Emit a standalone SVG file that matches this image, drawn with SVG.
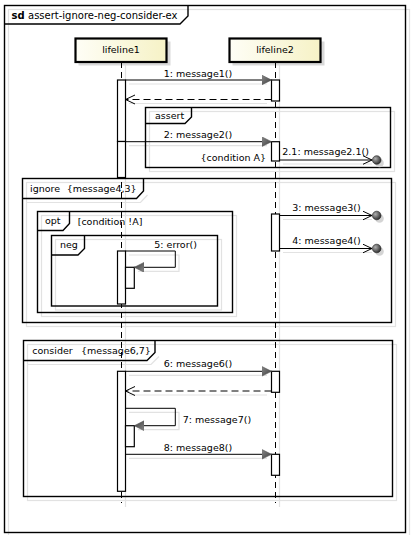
<svg xmlns="http://www.w3.org/2000/svg" width="411" height="535" viewBox="0 0 411 535">
<defs>
  <linearGradient id="boxGrad" x1="0" y1="0" x2="1" y2="0">
    <stop offset="0" stop-color="#fefef6"/>
    <stop offset="1" stop-color="#f6f2c6"/>
  </linearGradient>
  <linearGradient id="arrowGrad" x1="0" y1="0" x2="1" y2="1">
    <stop offset="0" stop-color="#8a8a8a"/>
    <stop offset="1" stop-color="#3c3c3c"/>
  </linearGradient>
  <radialGradient id="dotGrad" cx="0.35" cy="0.35" r="0.7">
    <stop offset="0" stop-color="#b0b0b0"/>
    <stop offset="1" stop-color="#2a2a2a"/>
  </radialGradient>
  <marker id="filled" markerWidth="12" markerHeight="12" refX="10" refY="5" orient="auto" markerUnits="userSpaceOnUse">
    <path d="M0,0 L10,5 L0,10 Z" fill="url(#arrowGrad)" stroke="#555" stroke-width="0.6"/>
  </marker>
  <marker id="open" markerWidth="12" markerHeight="12" refX="9.5" refY="5" orient="auto" markerUnits="userSpaceOnUse">
    <path d="M0,0.5 L9.5,5 L0,9.5" fill="none" stroke="#000" stroke-width="1"/>
  </marker>
  <style>
    text { font-family: "DejaVu Sans", "Noto Sans", sans-serif; font-size: 9.5px; fill: #000; }
    .title { font-size: 10px; }
    .frame { fill: none; stroke: #000; stroke-width: 1.4; }
    .shadow { fill: none; stroke: #e2e2e2; stroke-width: 1.2; }
    .boxshadow { fill: #d9d9d9; }
    .box { fill: url(#boxGrad); stroke: #000; stroke-width: 2.2; }
    .lifeline { stroke: #000; stroke-width: 1; stroke-dasharray: 6 4; fill: none; }
    .act { fill: #fff; stroke: #000; stroke-width: 1.2; }
    .msg { stroke: #000; stroke-width: 1; fill: none; marker-end: url(#filled); }
    .ret { stroke: #000; stroke-width: 1; fill: none; stroke-dasharray: 7 4; marker-end: url(#open); }
    .lost { stroke: #000; stroke-width: 1; fill: none; marker-end: url(#open); }
    .dot { fill: url(#dotGrad); stroke: #222; stroke-width: 0.6; }
    .dotshadow { fill: #d4d4d4; }
    .mid { text-anchor: middle; }
  </style>
</defs>
<rect x="0" y="0" width="411" height="535" fill="#fff"/>

<!-- shadows -->
<g id="shadows">
  <rect class="shadow" x="8.5" y="9.5" width="401" height="530"/>
  <rect class="shadow" x="149.5" y="111.5" width="245" height="60"/>
  <rect class="shadow" x="26.5" y="182.5" width="369" height="144"/>
  <path class="shadow" d="M26.5,202.5 H140.5 L147.5,195"/>
  <rect class="shadow" x="41.5" y="215.5" width="195" height="101"/>
  <rect class="shadow" x="55.5" y="239.5" width="166" height="70.5"/>
  <rect class="shadow" x="27.5" y="344.5" width="369" height="156"/>
  <path class="shadow" d="M27.5,364.5 H151 L159,356.5"/>
  <line class="shadow" x1="125.5" y1="63" x2="125.5" y2="507"/>
  <line class="shadow" x1="279.5" y1="63" x2="279.5" y2="507"/>
  <path class="shadow" d="M129,84 H267 M267,103.5 H129 M129,145.7 H267 M283,164 H372 M283,219.5 H372 M283,252.5 H372 M129,255 H179 V271.3 H138 M129,375.3 H267 M267,395 H129 M129,412.3 H179 V429.7 H138 M129,458.3 H267"/>
</g>

<!-- outer sd frame -->
<g id="frame-sd">
  <rect class="frame" x="4.5" y="5.5" width="401" height="527"/>
  <path class="frame" d="M4.5,24 H180 L188,16 V5.5"/>
  <text class="title" x="11.5" y="18.5"><tspan font-weight="bold">sd</tspan><tspan x="28">assert-ignore-neg-consider-ex</tspan></text>
</g>

<!-- combined fragments -->
<g id="frame-assert">
  <rect class="frame" x="145.5" y="107.5" width="245" height="60"/>
  <path class="frame" d="M145.5,123.5 H185 L191.5,117 V107.5"/>
  <text x="155" y="119">assert</text>
  <text x="200.5" y="160.5">{condition A}</text>
</g>
<g id="frame-ignore">
  <rect class="frame" x="22.5" y="178.5" width="369" height="144"/>
  <path class="frame" d="M22.5,198.5 H136.5 L143.5,191 V178.5"/>
  <text x="30" y="192">ignore<tspan x="66.7">{message4,3}</tspan></text>
</g>
<g id="frame-opt">
  <rect class="frame" x="37.5" y="211.5" width="195" height="101"/>
  <path class="frame" d="M37.5,230.5 H63 L69.5,223.5 V211.5"/>
  <text x="45" y="224">opt</text>
  <text x="77.7" y="225">[condition !A]</text>
</g>
<g id="frame-neg">
  <rect class="frame" x="51.5" y="235.5" width="166" height="70.5"/>
  <path class="frame" d="M51.5,255 H78 L84.5,248.5 V235.5"/>
  <text x="60" y="248">neg</text>
</g>
<g id="frame-consider">
  <rect class="frame" x="23.5" y="340.5" width="369" height="156"/>
  <path class="frame" d="M23.5,360.5 H147 L155,352.5 V340.5"/>
  <text x="32.3" y="354">consider<tspan x="81">{message6,7}</tspan></text>
</g>

<!-- lifelines -->
<g id="lifeline1">
  <rect class="boxshadow" x="78.5" y="41.5" width="92" height="24"/>
  <rect class="box" x="75.5" y="38.5" width="91" height="23.5"/>
  <text class="mid" x="121" y="52.5">lifeline1</text>
  <line class="lifeline" x1="121.5" y1="62" x2="121.5" y2="503"/>
  <rect class="act" x="117.5" y="80" width="8" height="61.5"/>
  <rect class="act" x="117.5" y="141.5" width="8" height="36"/>
  <rect class="act" x="117.5" y="251" width="8" height="53"/>
  <rect class="act" x="125.5" y="267.3" width="8.8" height="21"/>
  <rect class="act" x="117.5" y="371.3" width="8" height="120"/>
  <rect class="act" x="125.5" y="425.7" width="8.8" height="21"/>
</g>
<g id="lifeline2">
  <rect class="boxshadow" x="232.5" y="41.5" width="92" height="24"/>
  <rect class="box" x="229.5" y="38.5" width="91" height="23.5"/>
  <text class="mid" x="275" y="52.5">lifeline2</text>
  <line class="lifeline" x1="275.5" y1="62" x2="275.5" y2="503"/>
  <rect class="act" x="271.5" y="80" width="8" height="21"/>
  <rect class="act" x="271.5" y="141.7" width="8" height="19.3"/>
  <rect class="act" x="271.5" y="214" width="8" height="37"/>
  <rect class="act" x="271.5" y="371.3" width="8" height="21"/>
  <rect class="act" x="271.5" y="454.3" width="8" height="21"/>
</g>

<!-- connectors -->
<g id="connectors">
  <line class="msg" x1="125.5" y1="80" x2="271.5" y2="80"/>
  <text class="mid" x="198" y="76.5">1: message1()</text>
  <line class="ret" x1="271.5" y1="99.5" x2="125.5" y2="99.5"/>

  <line class="msg" x1="125.5" y1="141.7" x2="271.5" y2="141.7"/>
  <text class="mid" x="198" y="137.5">2: message2()</text>

  <line class="lost" x1="279.5" y1="160" x2="372" y2="160"/>
  <text x="282.3" y="155">2.1: message2.1()</text>
  <circle class="dotshadow" cx="379.5" cy="163" r="4.3"/>
  <circle class="dot" cx="376.7" cy="160" r="4.3"/>

  <line class="lost" x1="279.5" y1="215.5" x2="372" y2="215.5"/>
  <text x="292.3" y="210.7">3: message3()</text>
  <circle class="dotshadow" cx="379.5" cy="218.5" r="4.3"/>
  <circle class="dot" cx="376.7" cy="215.5" r="4.3"/>

  <line class="lost" x1="279.5" y1="248.5" x2="372" y2="248.5"/>
  <text x="292.3" y="244">4: message4()</text>
  <circle class="dotshadow" cx="379.5" cy="251.5" r="4.3"/>
  <circle class="dot" cx="376.7" cy="248.5" r="4.3"/>

  <polyline class="msg" points="125.5,251 175.3,251 175.3,267.3 134.3,267.3"/>
  <text x="154.3" y="248.3">5: error()</text>

  <line class="msg" x1="125.5" y1="371.3" x2="271.5" y2="371.3"/>
  <text class="mid" x="198" y="367.3">6: message6()</text>
  <line class="ret" x1="271.5" y1="391" x2="125.5" y2="391"/>

  <polyline class="msg" points="125.5,408.3 175.3,408.3 175.3,425.7 134.3,425.7"/>
  <text x="182.7" y="422.7">7: message7()</text>

  <line class="msg" x1="125.5" y1="454.3" x2="271.5" y2="454.3"/>
  <text class="mid" x="198" y="450.7">8: message8()</text>
</g>
</svg>
